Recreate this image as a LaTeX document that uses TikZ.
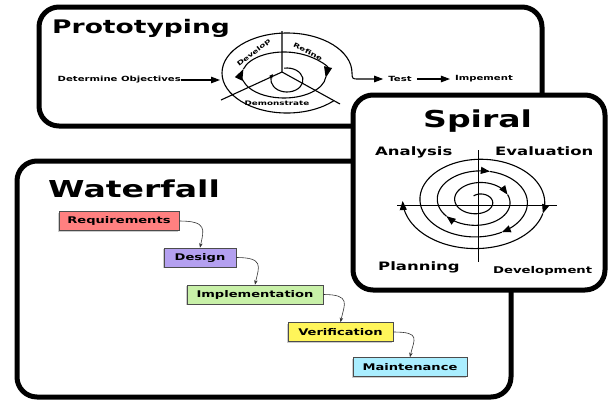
\documentclass[tikz,border=0pt]{standalone}
\usepackage{fontspec}
\setmainfont{DejaVu Sans}[FakeStretch=1.42]
\usetikzlibrary{arrows.meta,shadows,calc}
\definecolor{reqc}{RGB}{255,128,128}
\definecolor{desc}{RGB}{180,160,240}
\definecolor{impc}{RGB}{200,240,168}
\definecolor{verc}{RGB}{255,245,90}
\definecolor{maic}{RGB}{170,238,255}
\begin{document}
\begin{tikzpicture}[x=1pt,y=-1pt,
  every node/.style={font=\bfseries, inner sep=0pt},
  bigbox/.style={draw=black, line width=5pt, rounded corners=20pt, fill=white},
  pline/.style={line width=1.1pt},
  tri/.style={-{Triangle[length=9pt,width=6.5pt]}},
  bigtri/.style={-{Triangle[length=11pt,width=8pt]}},
  wfbox/.style={draw=black!70, line width=0.7pt, minimum height=19pt,
    drop shadow={shadow xshift=-1.3pt,shadow yshift=-1.3pt,opacity=.4}},
  conn/.style={draw=black!80, line width=0.6pt, -{Stealth[length=4.5pt,width=3.5pt]}},
  wftext/.style={font=\bfseries\fontsize{9.2}{10}\selectfont},
  small/.style={font=\bfseries\fontsize{7.1}{8}\selectfont},
  tiny/.style={font=\bfseries\fontsize{6.2}{7}\selectfont},
  title/.style={font=\bfseries\fontsize{23.3}{25}\selectfont, anchor=base west},
  slabel/.style={font=\bfseries\fontsize{11.6}{13}\selectfont, anchor=base west},
]
\useasboundingbox (0,0) rectangle (611,400);

% ---------- Prototyping ----------
\draw[bigbox] (39,7) rectangle (542,126);
\node[font=\bfseries\fontsize{18.7}{20}\selectfont, anchor=base west] (ptitle) at (52,33) {Prototyping};

\coordinate (pc) at (282,72);
\coordinate (pup) at (282,31);
\coordinate (pll) at (221,100);
\coordinate (plr) at (340,104);
\draw[pline] (pup) -- (pc) -- (pll) (pc) -- (plr);

\coordinate (oc) at (287,73);
\draw[pline] ([shift={(0:65 and 40)}]oc) arc[start angle=0,end angle=-316,x radius=65,y radius=40];

\coordinate (mc) at (284,75);
\draw[pline,bigtri] ([shift={(5:42 and 23)}]mc) arc[start angle=5,end angle=195,x radius=42,y radius=23];
\draw[pline,bigtri] ([shift={(195:42 and 23)}]mc) arc[start angle=195,end angle=367,x radius=42,y radius=23];

\coordinate (ic) at (287,80);
\draw[pline,-{Triangle[length=4pt,width=3.5pt]}] ([shift={(-100:16 and 12)}]ic) arc[start angle=-100,end angle=210,x radius=16,y radius=12];

\node[small, anchor=east] (detobj) at (181,80) {Determine Objectives};
\coordinate (pentry) at (220,80);
\draw[pline,tri] (detobj.east) -- (pentry);

\node[small, inner xsep=5pt] (test) at (400,79) {Test};
\node[small, inner xsep=5pt] (impl) at (484,79) {Impement};
\coordinate (pexit) at (352,73);
\draw[pline,tri] (pexit) .. controls (352,79) and (353,79) .. (358,79) -- (test.west);
\draw[pline,tri] (test.east) -- (impl.west);

\node[tiny, rotate=38] (develop) at (254,53) {Develop};
\node[tiny, rotate=-27] (refine) at (308,52) {Refine};
\node[tiny] (demo) at (277,103) {Demonstrate};

% ---------- Waterfall ----------
\draw[bigbox] (17,161) rectangle (511,397);
\node[title] (wtitle) at (48,197) {Waterfall};

\node[wfbox, wftext, fill=reqc, minimum width=120pt] (req) at (119,221) {Requirements};
\node[wfbox, wftext, fill=desc, minimum width=72pt] (des) at (200,257.5) {Design};
\node[wfbox, wftext, fill=impc, minimum width=136pt] (imp) at (255,294.5) {Implementation};
\node[wfbox, wftext, fill=verc, minimum width=105pt] (ver) at (340.5,332) {Verification};
\node[wfbox, wftext, fill=maic, minimum width=114pt] (mai) at (410,367) {Maintenance};

\draw[conn] (req.east) .. controls +(28,0) and +(4,-18) .. (des.north);
\draw[conn] (des.east) .. controls +(28,0) and +(4,-18) .. (imp.north);
\draw[conn] (imp.east) .. controls +(28,0) and +(4,-18) .. (ver.north);
\draw[conn] (ver.east) .. controls +(28,0) and +(4,-18) .. (mai.north);

% ---------- Spiral ----------
\draw[bigbox] (353,95) rectangle (605,290);
\node[title] (stitle) at (423,127) {Spiral};
\node[slabel] (analysis) at (375,155) {Analysis};
\node[slabel] (evaluation) at (495,155) {Evaluation};
\node[slabel] (planning) at (378,270) {Planning};
\node[font=\bfseries\fontsize{9.3}{11}\selectfont, anchor=base west] (development) at (493,273) {Development};

\coordinate (sl) at (397,205);
\coordinate (sr) at (557,205);
\coordinate (st) at (478,150);
\coordinate (sb) at (478,262);
\draw[line width=1pt] (sl) -- (sr) (st) -- (sb);

\foreach \a/\b in {-120/342, 342/504, 504/645, 645/783, 783/1096, 1096/1260}{
  \draw[pline,-{Triangle[length=9pt,width=7pt]}] plot[domain=\a:\b, samples=90, variable=\t]
    ({478+1.45*(10+\t/30)*cos(\t)},{201+0.97*(10+\t/30)*sin(\t)});
}
\end{tikzpicture}
\end{document}
